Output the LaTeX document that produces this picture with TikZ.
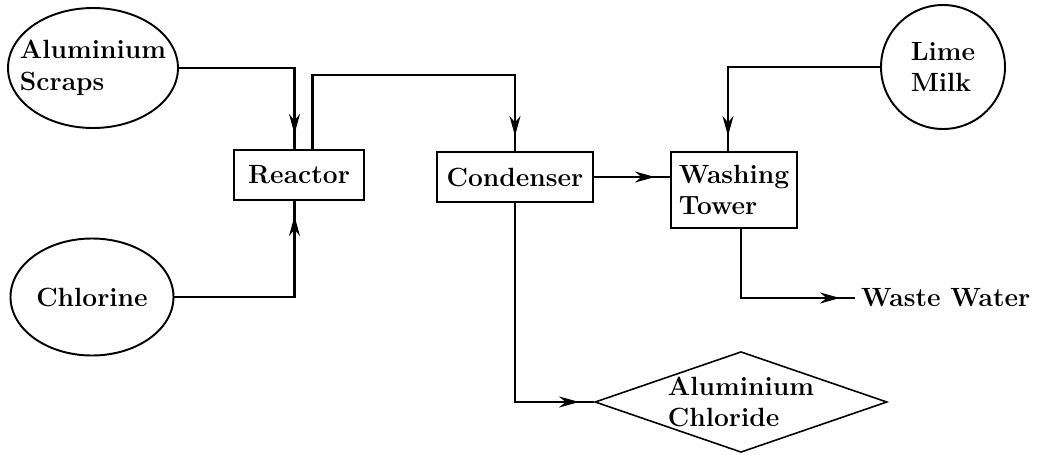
\documentclass[tikz,border=0pt]{standalone}
\usepackage{tikz}
\usetikzlibrary{arrows.meta, shapes.geometric, decorations.markings}

\tikzset{
  unit/.style={draw, line width=1.2pt, rectangle, minimum height=1.0cm, inner sep=2pt},
  feed/.style={draw, line width=1.1pt, ellipse, inner sep=0pt, align=left},
  flow/.style={line width=1.2pt, postaction={decorate},
    decoration={markings, mark=at position -0.3cm with {\arrow{Stealth[length=4mm,width=2.2mm]}}}},
}

\begin{document}
\begin{tikzpicture}[x=0.2mm, y=-0.2mm, font=\fontsize{15}{18}\selectfont\bfseries, >=Stealth]
  \useasboundingbox (0,0) rectangle (1053,455);
  % raw materials
  \node[feed, inner xsep=-0.26cm, minimum width=3.4cm, minimum height=2.4cm] (scraps) at (93,68) {Aluminium\\Scraps};
  \node[feed, minimum width=3.26cm, minimum height=2.34cm] (chlorine) at (92,297) {Chlorine};
  \node[feed, circle, minimum size=2.48cm] (lime) at (943,67) {Lime\\Milk};
  % process units
  \node[unit, minimum width=2.6cm] (reactor) at (299,175) {Reactor};
  \node[unit, minimum width=3.12cm] (condenser) at (515,177) {Condenser};
  \node[unit, minimum width=2.52cm, minimum height=1.52cm, align=left] (washing) at (734,190) {Washing\\Tower};
  % products
  \node[draw, line width=0.9pt, diamond, aspect=2.9, minimum width=5.8cm, minimum height=2cm,
        inner sep=0pt, align=left] (product) at (741,402) {Aluminium\\Chloride};
  \node[anchor=west] (waste) at (855,298) {Waste\ Water};

  \draw[flow] (scraps.east) -| ([xshift=-0.09cm]reactor.north);
  \draw[flow] (chlorine.east) -| ([xshift=-0.09cm]reactor.south);
  \draw[flow] ([xshift=0.27cm]reactor.north) -- ++(0,-74) -| (condenser.north);
  \draw[flow] (condenser.east) -- (condenser.east -| washing.west);
  \draw[flow] (lime.west) -| ([xshift=-0.12cm]washing.north);
  \draw[flow] ([xshift=0.14cm]washing.south) |- (waste.west);
  \draw[flow] (condenser.south) |- (product.west);
\end{tikzpicture}
\end{document}
